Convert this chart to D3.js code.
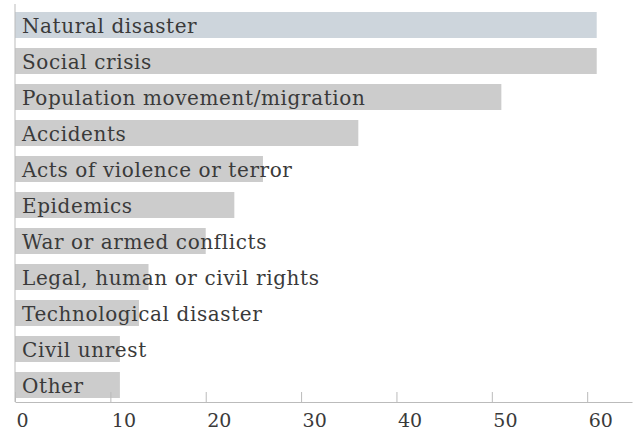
<!DOCTYPE html>
<html>
<head>
<meta charset="utf-8">
<script src="https://cdn.jsdelivr.net/npm/d3@7"></script>
<style>
  body { margin: 0; background: #fff; }
  text { font-family: "DejaVu Serif", serif; fill: #3a3a3a; }
</style>
</head>
<body>
<div id="chart"></div>
<script>
// categories and values
var categories = ["Natural disaster", "Social crisis", "Population movement/migration",
  "Accidents", "Acts of violence or terror", "Epidemics", "War or armed conflicts",
  "Legal, human or civil rights", "Technological disaster", "Civil unrest", "Other"];
var values = [61, 61, 51, 36, 26, 23, 20, 14, 13, 11, 11];
var ticks = [0, 10, 20, 30, 40, 50, 60];

var width = 638, height = 428;
var marginLeft = 15, marginRight = 632, marginTop = 12, axisY = 402;

var svg = d3.select("#chart").append("svg")
  .attr("width", width)
  .attr("height", height);

var x = d3.scaleLinear().domain([0, 64.7]).range([marginLeft, marginRight]);
var y = d3.scaleBand().domain(categories).range([marginTop, 398])
  .paddingInner(10 / 36).paddingOuter(0);

svg.selectAll("rect.bar")
  .data(categories)
  .enter().append("rect")
  .attr("class", "bar")
  .attr("x", x(0))
  .attr("y", function(d) { return y(d); })
  .attr("width", function(d, i) { return x(values[i]) - x(0); })
  .attr("height", y.bandwidth())
  .attr("fill", function(d, i) { return i == 0 ? "#cdd5dc" : "#cccccc"; });

svg.selectAll("text.label")
  .data(categories)
  .enter().append("text")
  .attr("class", "label")
  .attr("x", marginLeft + 7)
  .attr("y", function(d) { return y(d) + 21; })
  .style("font-size", "20px")
  .style("letter-spacing", "0.6px")
  .text(function(d) { return d; });

// left line
svg.append("line")
  .attr("x1", marginLeft).attr("x2", marginLeft)
  .attr("y1", 4).attr("y2", axisY)
  .attr("stroke", "#bbb");

var axis = d3.axisBottom(x).tickValues(ticks).tickSizeInner(-10).tickSizeOuter(0);
var g = svg.append("g").attr("transform", "translate(0," + axisY + ")").call(axis);
g.select(".domain").attr("stroke", "#bbb");
g.selectAll(".tick line").attr("stroke", "#bbb");
g.selectAll(".tick text")
  .attr("text-anchor", "start")
  .attr("dx", 1)
  .attr("dy", 0)
  .attr("y", 25)
  .style("font-size", "19px")
  .style("font-family", "DejaVu Serif, serif")
  .attr("fill", "#3a3a3a");
</script>
</body>
</html>
